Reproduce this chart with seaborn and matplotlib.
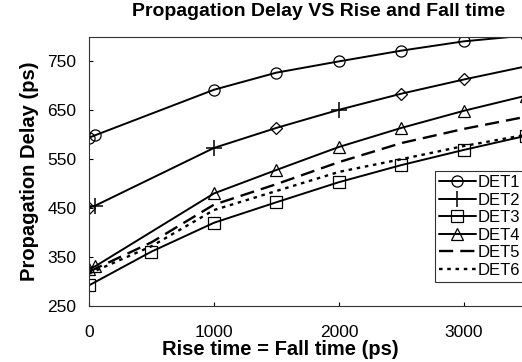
"""
Propagation delay vs rise/fall time for six detector designs
"""

import matplotlib
matplotlib.use("Agg")
import matplotlib.pyplot as plt
import seaborn as sns

# data (ps)
det1_x = [0, 50, 1000, 1500, 2000, 2500, 3000, 3500]
det1_y = [594, 599, 692, 727, 750, 772, 791, 803]

det2_x = [0, 50, 1000, 1500, 2000, 2500, 3000, 3500]
det2_y = [451, 455, 573, 614, 651, 684, 713, 740]
det2_plus = [1, 2, 4]
det2_diamond = [0, 3, 5, 6]

det3_x = [0, 500, 1000, 1500, 2000, 2500, 3000, 3500]
det3_y = [292, 361, 420, 462, 503, 538, 569, 598]

det4_x = [0, 50, 1000, 1500, 2000, 2500, 3000, 3500]
det4_y = [326, 331, 480, 528, 575, 614, 649, 680]

det5_x = [0, 500, 1000, 1500, 2000, 2500, 3000, 3500]
det5_y = [320, 380, 457, 499, 544, 583, 612, 637]

det6_x = [0, 500, 1000, 1500, 2000, 2500, 3000, 3500]
det6_y = [316, 372, 446, 485, 524, 550, 577, 600]

x_ticks = [0, 1000, 2000, 3000]
y_ticks = [250, 350, 450, 550, 650, 750]

sns.set_style("ticks")
plt.rcParams['font.family'] = ['Liberation Sans', 'DejaVu Sans']
plt.rcParams['text.color'] = 'black'
plt.rcParams['axes.labelcolor'] = 'black'
plt.rcParams['xtick.color'] = 'black'
plt.rcParams['ytick.color'] = 'black'

fig = plt.figure(figsize=(5.22, 3.62), dpi=100)
ax = fig.add_axes([0.1705, 0.155, 0.838, 0.743])

mk = dict(markerfacecolor='none', markeredgecolor='black', markersize=8,
          markeredgewidth=0.9)

sns.lineplot(x=det1_x, y=det1_y, ax=ax, color='black', lw=1.4, marker='o',
             label='DET1', **mk)
sns.lineplot(x=det2_x, y=det2_y, ax=ax, color='black', lw=1.4, marker='+',
             markevery=det2_plus, label='DET2', markersize=11,
             markeredgewidth=1.1, markeredgecolor='black')
ax.plot([det2_x[i] for i in det2_diamond], [det2_y[i] for i in det2_diamond],
        ls='none', marker='D', markersize=6, markerfacecolor='none',
        markeredgecolor='black', markeredgewidth=0.9)
sns.lineplot(x=det3_x, y=det3_y, ax=ax, color='black', lw=1.4, marker='s',
             label='DET3', **mk)
sns.lineplot(x=det4_x, y=det4_y, ax=ax, color='black', lw=1.4, marker='^',
             label='DET4', **mk)
sns.lineplot(x=det5_x, y=det5_y, ax=ax, color='black', lw=1.7,
             dashes=(6, 3), label='DET5')
sns.lineplot(x=det6_x, y=det6_y, ax=ax, color='black', lw=1.7,
             dashes=(1.5, 2), label='DET6')

ax.set_xlim(0, 3500)
ax.set_ylim(250, 800)
ax.set_xticks(x_ticks)
ax.set_yticks(y_ticks)
ax.tick_params(direction='in', length=3, labelsize=12.5)
ax.tick_params(axis='x', pad=14)
ax.tick_params(axis='y', pad=9)
for s in ax.spines.values():
    s.set_linewidth(0.8)
    s.set_color('#333333')

fig.text(319 / 522, 1 - 12 / 362, 'Propagation Delay VS Rise and Fall time',
         fontsize=14, fontweight='bold', ha='center', va='center')
ax.set_xlabel('Rise time = Fall time (ps)', fontsize=14.5, fontweight='bold',
              labelpad=0, x=0.437)
ax.set_ylabel('Propagation Delay (ps)', fontsize=14.5, fontweight='bold',
              labelpad=6)

leg = ax.legend(loc='lower right', bbox_to_anchor=(0.995, 0.09), fontsize=12,
                frameon=True, fancybox=False, handlelength=2.2,
                handletextpad=0.1, borderpad=0.25, labelspacing=0.15,
                borderaxespad=0)
leg.get_frame().set_edgecolor('black')
leg.get_frame().set_linewidth(0.8)

fig.savefig('out.png', dpi=100)
